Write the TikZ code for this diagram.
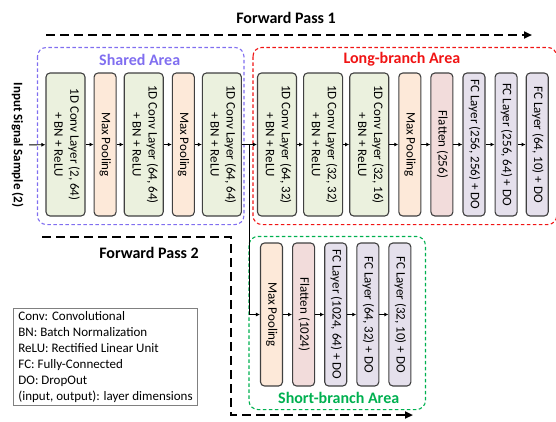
\documentclass[tikz,border=0pt]{standalone}
\usepackage{fontspec}
\setmainfont{Carlito}
\usepackage{tikz}
\usetikzlibrary{arrows.meta, positioning, calc}

\definecolor{convfill}{RGB}{235,241,222}
\definecolor{poolfill}{RGB}{253,233,217}
\definecolor{flatfill}{RGB}{242,220,219}
\definecolor{fcfill}{RGB}{229,224,236}
\definecolor{edgegray}{RGB}{64,64,64}
\definecolor{sharedcol}{RGB}{128,110,240}
\definecolor{longcol}{RGB}{240,20,20}
\definecolor{shortcol}{RGB}{0,176,80}

\newcommand{\sidetext}[1]{\rotatebox{-90}{\begin{tabular}{@{}c@{}}#1\end{tabular}}}

\begin{document}
\begin{tikzpicture}[
    x=1pt, y=-1pt,
    layer/.style={rectangle, draw=edgegray, line width=1.1pt, rounded corners=4pt, minimum height=143pt, inner sep=0pt, font=\fontsize{13}{16}\selectfont},
    conv/.style={layer, fill=convfill, minimum width=39pt},
    pool/.style={layer, fill=poolfill, minimum width=22pt},
    flat/.style={layer, fill=flatfill, minimum width=22pt},
    fc/.style={layer, fill=fcfill, minimum width=22pt},
    flow/.style={-{Latex[length=4pt,width=4pt]}, line width=0.9pt, black},
    pass/.style={line width=2pt, dash pattern=on 9pt off 5pt, black},
    area/.style={line width=1.1pt, dash pattern=on 3.5pt off 2.5pt, rounded corners=9pt},
    areatitle/.style={font=\fontsize{16}{19}\selectfont\bfseries},
    legend/.style={draw=gray, line width=0.8pt, align=left, inner xsep=5pt, inner ysep=3pt, font=\fontsize{13}{16}\selectfont}
]
\useasboundingbox (0,0) rectangle (556,421);

% Input
\node (input) [font=\fontsize{13}{16}\selectfont\bfseries, inner sep=4pt] at (17,145) {\sidetext{Input Signal Sample (2)}};

% Shared area
\node (c1) [conv] at (65.5,144.5) {\sidetext{1D Conv Layer (2, 64)\\+ BN + ReLU}};
\node (mp1) [pool, right=8pt of c1] {\sidetext{Max Pooling}};
\node (c2) [conv, right=7pt of mp1] {\sidetext{1D Conv Layer (64, 64)\\+ BN + ReLU}};
\node (mp2) [pool, right=8pt of c2] {\sidetext{Max Pooling}};
\node (c3) [conv, right=7pt of mp2] {\sidetext{1D Conv Layer (64, 64)\\+ BN + ReLU}};

% Long branch
\node (c4) [conv, right=15pt of c3] {\sidetext{1D Conv Layer (64, 32)\\+ BN + ReLU}};
\node (c5) [conv, right=6pt of c4] {\sidetext{1D Conv Layer (32, 32)\\+ BN + ReLU}};
\node (c6) [conv, right=6pt of c5] {\sidetext{1D Conv Layer (32, 16)\\+ BN + ReLU}};
\node (lmp) [pool, right=9pt of c6] {\sidetext{Max Pooling}};
\node (lfl) [flat, right=9pt of lmp] {\sidetext{Flatten (256)}};
\node (lfc1) [fc, right=9pt of lfl] {\sidetext{FC Layer (256, 256) + DO}};
\node (lfc2) [fc, right=9pt of lfc1] {\sidetext{FC Layer (256, 64) + DO}};
\node (lfc3) [fc, right=8pt of lfc2] {\sidetext{FC Layer (64, 10) + DO}};

% Short branch
\node (smp) [pool] at (271.5,314.5) {\sidetext{Max Pooling}};
\node (sfl) [flat, right=9pt of smp] {\sidetext{Flatten (1024)}};
\node (sfc1) [fc, right=9pt of sfl] {\sidetext{FC Layer (1024, 64) + DO}};
\node (sfc2) [fc, right=9pt of sfc1] {\sidetext{FC Layer (64, 32) + DO}};
\node (sfc3) [fc, right=9pt of sfc2] {\sidetext{FC Layer (32, 10) + DO}};

% Areas
\draw[area, sharedcol] ($(c1.north west)+(-8,-25)$) rectangle ($(c3.south east)+(2,8)$);
\draw[area, longcol] ($(c4.north west)+(-4,-25)$) rectangle ($(lfc3.south east)+(8,8)$);
\draw[area, shortcol] ($(smp.north west)+(-11,-6)$) rectangle ($(sfc3.south east)+(14,23)$);
\node (sharedt) [areatitle, sharedcol] at ($(c1.north west)!0.5!(c3.north east)+(-4,-13)$) {Shared Area};
\node (longt) [areatitle, longcol] at ($(c4.north west)!0.5!(lfc3.north east)+(-1,-13)$) {Long-branch Area};
\node (shortt) [areatitle, shortcol] at ($(smp.south west)!0.5!(sfc3.south east)+(3,11)$) {Short-branch Area};

% Forward passes
\coordinate (fp1a) at (46,35);
\coordinate (fp1b) at (532,35);
\draw[pass, -{Triangle[length=8pt,width=7pt]}] (fp1a) -- (fp1b);
\node (fp1t) [areatitle] at (286,18) {Forward Pass 1};
\coordinate (fp2a) at (42,237);
\coordinate (fp2b) at (231,237);
\coordinate (fp2c) at (413,415);
\draw[pass, -{Triangle[length=8pt,width=7pt]}] (fp2a) -- (fp2b) |- (fp2c);
\node (fp2t) [areatitle] at (149,253) {Forward Pass 2};

% Paths
\coordinate (split) at ($(c3.east)!0.5!(c4.west)$);
\draw[flow] (input) -- (c1);
\draw[flow] (c1) -- (mp1);
\draw[flow] (mp1) -- (c2);
\draw[flow] (c2) -- (mp2);
\draw[flow] (mp2) -- (c3);
\draw[flow] (c3) -- (c4);
\draw[flow] (c4) -- (c5);
\draw[flow] (c5) -- (c6);
\draw[flow] (c6) -- (lmp);
\draw[flow] (lmp) -- (lfl);
\draw[flow] (lfl) -- (lfc1);
\draw[flow] (lfc1) -- (lfc2);
\draw[flow] (lfc2) -- (lfc3);
\draw[flow] (split) |- (smp);
\draw[flow] (smp) -- (sfl);
\draw[flow] (sfl) -- (sfc1);
\draw[flow] (sfc1) -- (sfc2);
\draw[flow] (sfc2) -- (sfc3);

% Legend
\node (key) [legend, anchor=north west] at (13,308) {Conv: Convolutional\\BN: Batch Normalization\\ReLU: Rectified Linear Unit\\FC: Fully-Connected\\DO: DropOut\\(input, output): layer dimensions};

\end{tikzpicture}
\end{document}
